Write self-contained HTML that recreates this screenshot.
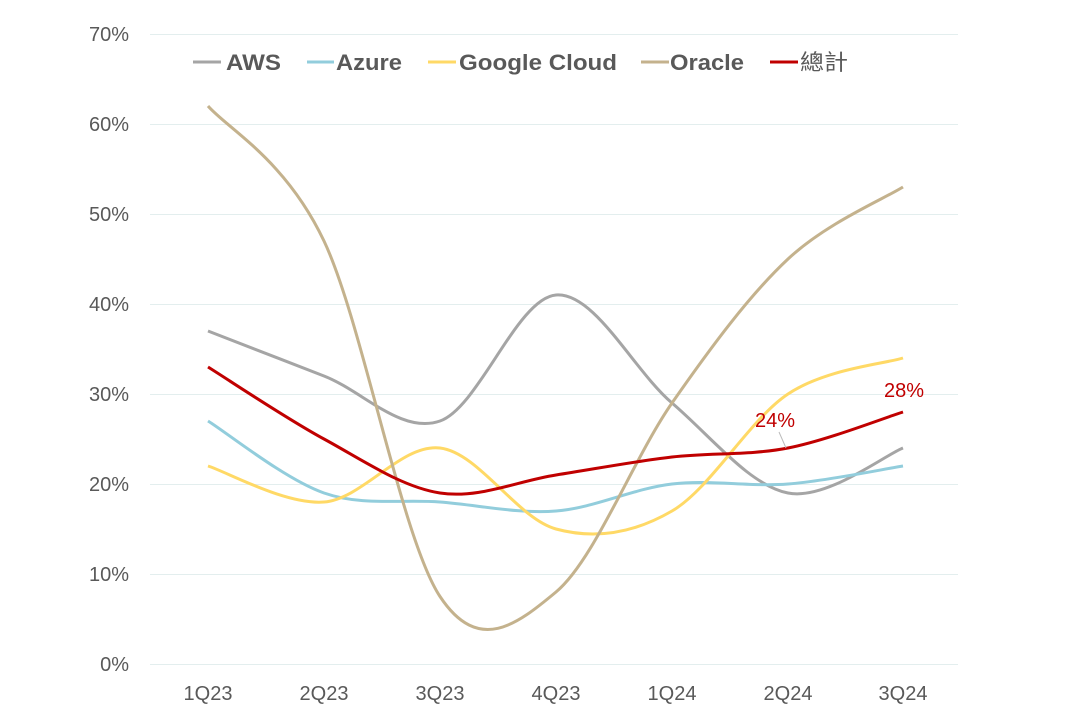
<!DOCTYPE html><html><head><meta charset="utf-8"><style>
body{margin:0;background:#fff}
text{font-family:"Liberation Sans","Noto Sans CJK TC",sans-serif}
</style></head><body>
<svg id="s" width="1077" height="718" xmlns="http://www.w3.org/2000/svg">
<g stroke="#e3eeee" stroke-width="1">
<line x1="150" x2="958" y1="34.5" y2="34.5"/><line x1="150" x2="958" y1="124.5" y2="124.5"/>
<line x1="150" x2="958" y1="214.5" y2="214.5"/><line x1="150" x2="958" y1="304.5" y2="304.5"/>
<line x1="150" x2="958" y1="394.5" y2="394.5"/><line x1="150" x2="958" y1="484.5" y2="484.5"/>
<line x1="150" x2="958" y1="574.5" y2="574.5"/><line x1="150" x2="958" y1="664.5" y2="664.5"/>
</g>
<g font-size="20" fill="#595959" text-anchor="end">
<text x="129" y="41">70%</text><text x="129" y="131">60%</text><text x="129" y="221">50%</text>
<text x="129" y="311">40%</text><text x="129" y="401">30%</text><text x="129" y="491">20%</text>
<text x="129" y="581">10%</text><text x="129" y="671">0%</text>
</g>
<g font-size="20" fill="#595959" text-anchor="middle">
<text x="208" y="700">1Q23</text><text x="324" y="700">2Q23</text><text x="440" y="700">3Q23</text>
<text x="556" y="700">4Q23</text><text x="672" y="700">1Q24</text><text x="788" y="700">2Q24</text><text x="903" y="700">3Q24</text>
</g>
<g id="series" fill="none" stroke-width="3"></g>
<g font-size="22" font-weight="bold" fill="#595959">
<line x1="193" x2="221" y1="62" y2="62" stroke="#a5a5a5" stroke-width="3"/><text x="226" y="70" textLength="55" lengthAdjust="spacingAndGlyphs">AWS</text>
<line x1="307" x2="334" y1="62" y2="62" stroke="#92cddc" stroke-width="3"/><text x="336" y="70" textLength="66" lengthAdjust="spacingAndGlyphs">Azure</text>
<line x1="428" x2="456" y1="62" y2="62" stroke="#ffd966" stroke-width="3"/><text x="459" y="70" textLength="158" lengthAdjust="spacingAndGlyphs">Google Cloud</text>
<line x1="641" x2="669" y1="62" y2="62" stroke="#c4b28d" stroke-width="3"/><text x="670" y="70" textLength="74" lengthAdjust="spacingAndGlyphs">Oracle</text>
<line x1="770" x2="798" y1="62" y2="62" stroke="#c00000" stroke-width="3"/><text x="800" y="70" font-weight="normal" textLength="48" lengthAdjust="spacingAndGlyphs">總計</text>
</g>
<line x1="779" y1="432" x2="786" y2="448" stroke="#bbb" stroke-width="1"/>
<text x="755" y="427" font-size="20" fill="#c00000">24%</text>
<text x="884" y="397" font-size="20" fill="#c00000">28%</text>
</svg>
<script>
var xs=[208,324,440,556,672,788,903];
function y(v){return 664-v*9;}
var data=[["#a5a5a5",[37,32,27,41,29,19,24]],["#92cddc",[27,19,18,17,20,20,22]],["#ffd966",[22,18,24,15,17,30,34]],["#c4b28d",[62,47,7.5,8,29,45,53]],["#c00000",[33,25,19,21,23,24,28]]];
var g=document.getElementById("series"),ns="http://www.w3.org/2000/svg";
data.forEach(function(d){
 var p=d[1].map(function(v,i){return [xs[i],y(v)]});
 var s="M"+p[0][0]+","+p[0][1],t=1/6;
 for(var i=0;i<p.length-1;i++){
  var p0=p[i-1]||p[i],p1=p[i],p2=p[i+1],p3=p[i+2]||p2;
  s+=" C"+(p1[0]+(p2[0]-p0[0])*t)+","+(p1[1]+(p2[1]-p0[1])*t)+" "+(p2[0]-(p3[0]-p1[0])*t)+","+(p2[1]-(p3[1]-p1[1])*t)+" "+p2[0]+","+p2[1];
 }
 var e=document.createElementNS(ns,"path");e.setAttribute("d",s);e.setAttribute("stroke",d[0]);g.appendChild(e);
});
</script>
</body></html>
